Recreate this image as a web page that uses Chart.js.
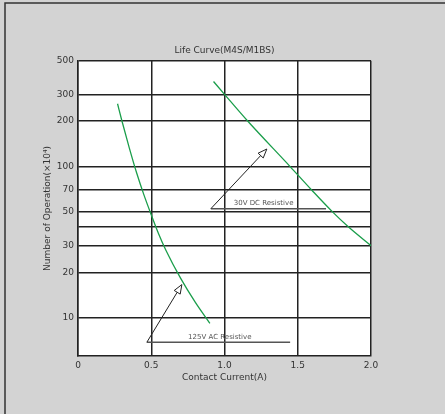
<!DOCTYPE html>
<html>
<head>
<meta charset="utf-8">
<script src="https://cdn.jsdelivr.net/npm/chart.js@4/dist/chart.umd.min.js"></script>
<style>
  html, body { margin: 0; padding: 0; background: #d3d3d3; }
  #wrap { width: 445px; height: 414px; }
</style>
</head>
<body>
<div id="wrap"><canvas id="lifeChart" width="445" height="414"></canvas></div>
<script>
// Curve data (contact current A, operations x10^4)
const acCurrent = [0.27, 0.3, 0.35, 0.4, 0.45, 0.5, 0.55, 0.6, 0.7, 0.8, 0.9];
const acLife = [260, 200, 133, 91, 65, 48, 36, 28, 18.3, 12.7, 9.2];
const dcCurrent = [0.925, 1.0, 1.158, 1.448, 1.595, 1.739, 1.845, 2.0];
const dcLife = [365, 300, 200, 100, 70, 50, 40, 30];

// Axis ticks
const xTicks = [0, 0.5, 1.0, 1.5, 2.0];
const xLabels = ['0', '0.5', '1.0', '1.5', '2.0'];
const yTicks = [10, 20, 30, 40, 50, 70, 100, 200, 300, 500];
const yLabels = ['10', '20', '30', '', '50', '70', '100', '200', '300', '500'];

// Callouts: label, arrow start, arrow tip, end of underline, label centre
const noteText = ['30V DC Resistive', '125V AC Resistive'];
const noteFrom = [[0.907, 52.7], [0.47, 6.9]];
const noteTo = [[1.289, 130.6], [0.709, 16.6]];
const noteLineEnd = [1.693, 1.448];
const noteTextX = [1.267, 0.968];

const FONT = '"DejaVu Sans", sans-serif';
const lineGreen = '#1b9e4b';

//Background, outer frame and white plot area
const frame = {
    id: 'frame',
    beforeDraw(chart) {
        const { ctx, chartArea: a } = chart;
        ctx.save();
        ctx.fillStyle = '#d3d3d3';
        ctx.fillRect(0, 0, chart.width, chart.height);
        ctx.strokeStyle = '#333';
        ctx.lineWidth = 1.5;
        ctx.beginPath();
        ctx.moveTo(5, chart.height);
        ctx.lineTo(5, 3);
        ctx.lineTo(chart.width, 3);
        ctx.stroke();
        ctx.fillStyle = '#fff';
        ctx.fillRect(a.left, a.top, a.right - a.left, a.bottom - a.top);
        ctx.restore();
    }
};

//Arrow callouts
const callouts = {
    id: 'callouts',
    afterDatasetsDraw(chart) {
        const { ctx, scales: { x, y } } = chart;
        ctx.save();
        noteText.forEach((txt, i) => {
            const x0 = x.getPixelForValue(noteFrom[i][0]), y0 = y.getPixelForValue(noteFrom[i][1]);
            const x1 = x.getPixelForValue(noteTo[i][0]), y1 = y.getPixelForValue(noteTo[i][1]);
            const xe = x.getPixelForValue(noteLineEnd[i]);

            ctx.strokeStyle = '#555';
            ctx.lineWidth = 1.5;
            ctx.beginPath();
            ctx.moveTo(x0, y0);
            ctx.lineTo(xe, y0);
            ctx.stroke();

            const ang = Math.atan2(y1 - y0, x1 - x0);
            const len = 9, half = 3.5;
            const bx = x1 - len * Math.cos(ang), by = y1 - len * Math.sin(ang);
            ctx.strokeStyle = '#222';
            ctx.lineWidth = 1;
            ctx.beginPath();
            ctx.moveTo(x0, y0);
            ctx.lineTo(bx, by);
            ctx.stroke();
            ctx.beginPath();
            ctx.moveTo(x1, y1);
            ctx.lineTo(bx + half * Math.sin(ang), by - half * Math.cos(ang));
            ctx.lineTo(bx - half * Math.sin(ang), by + half * Math.cos(ang));
            ctx.closePath();
            ctx.fillStyle = '#fff';
            ctx.fill();
            ctx.stroke();

            ctx.fillStyle = '#555';
            ctx.font = '7px ' + FONT;
            ctx.textAlign = 'center';
            ctx.textBaseline = 'bottom';
            ctx.fillText(txt, x.getPixelForValue(noteTextX[i]), y0 - 1.5);
        });
        ctx.restore();
    }
};

const toPoints = (xs, ys) => xs.map((v, i) => ({ x: v, y: ys[i] }));

new Chart(document.getElementById('lifeChart').getContext('2d'), {
    type: 'scatter',
    data: {
        datasets: [{
            label: '125V AC Resistive',
            data: toPoints(acCurrent, acLife),
            showLine: true,
            borderColor: lineGreen,
            borderWidth: 1.3,
            pointRadius: 0,
            cubicInterpolationMode: 'monotone'
        }, {
            label: '30V DC Resistive',
            data: toPoints(dcCurrent, dcLife),
            showLine: true,
            borderColor: lineGreen,
            borderWidth: 1.3,
            pointRadius: 0,
            cubicInterpolationMode: 'monotone'
        }]
    },
    options: {
        responsive: false,
        animation: false,
        devicePixelRatio: 1,
        layout: { padding: { left: 0, right: 74, top: 0, bottom: 0 } },
        plugins: {
            legend: { display: false },
            tooltip: { enabled: false },
            title: {
                display: true,
                fullSize: false,
                text: 'Life Curve(M4S/M1BS)',
                color: '#333',
                font: { family: FONT, size: 9, weight: 'normal' },
                padding: { top: 45, bottom: 5 }
            }
        },
        scales: {
            x: {
                type: 'linear',
                min: 0,
                max: 2,
                afterBuildTicks: s => { s.ticks = xTicks.map(v => ({ value: v })); },
                afterFit: s => { s.height = 58; },
                grid: { color: '#222', lineWidth: 1.5, drawTicks: false },
                border: { color: '#222', width: 1.5 },
                ticks: {
                    padding: 4,
                    color: '#333',
                    maxRotation: 0,
                    autoSkip: false,
                    font: { family: FONT, size: 9 },
                    callback: v => xLabels[xTicks.indexOf(v)]
                },
                title: {
                    display: true,
                    text: 'Contact Current(A)',
                    color: '#333',
                    font: { family: FONT, size: 9 },
                    padding: { top: 0, bottom: 31 }
                }
            },
            y: {
                type: 'logarithmic',
                min: 5.6,
                max: 500,
                afterBuildTicks: s => { s.ticks = yTicks.map(v => ({ value: v })); },
                afterFit: s => { s.width = 78; },
                grid: { color: '#222', lineWidth: 1.5, drawTicks: false },
                border: { color: '#222', width: 1.5 },
                ticks: {
                    padding: 4,
                    color: '#333',
                    autoSkip: false,
                    font: { family: FONT, size: 9 },
                    callback: v => yLabels[yTicks.indexOf(v)]
                },
                title: {
                    display: true,
                    text: 'Number of Operation(×10⁴)',
                    color: '#333',
                    font: { family: FONT, size: 9 },
                    padding: { top: 42, bottom: 0 }
                }
            }
        }
    },
    plugins: [frame, callouts]
});
</script>
</body>
</html>
